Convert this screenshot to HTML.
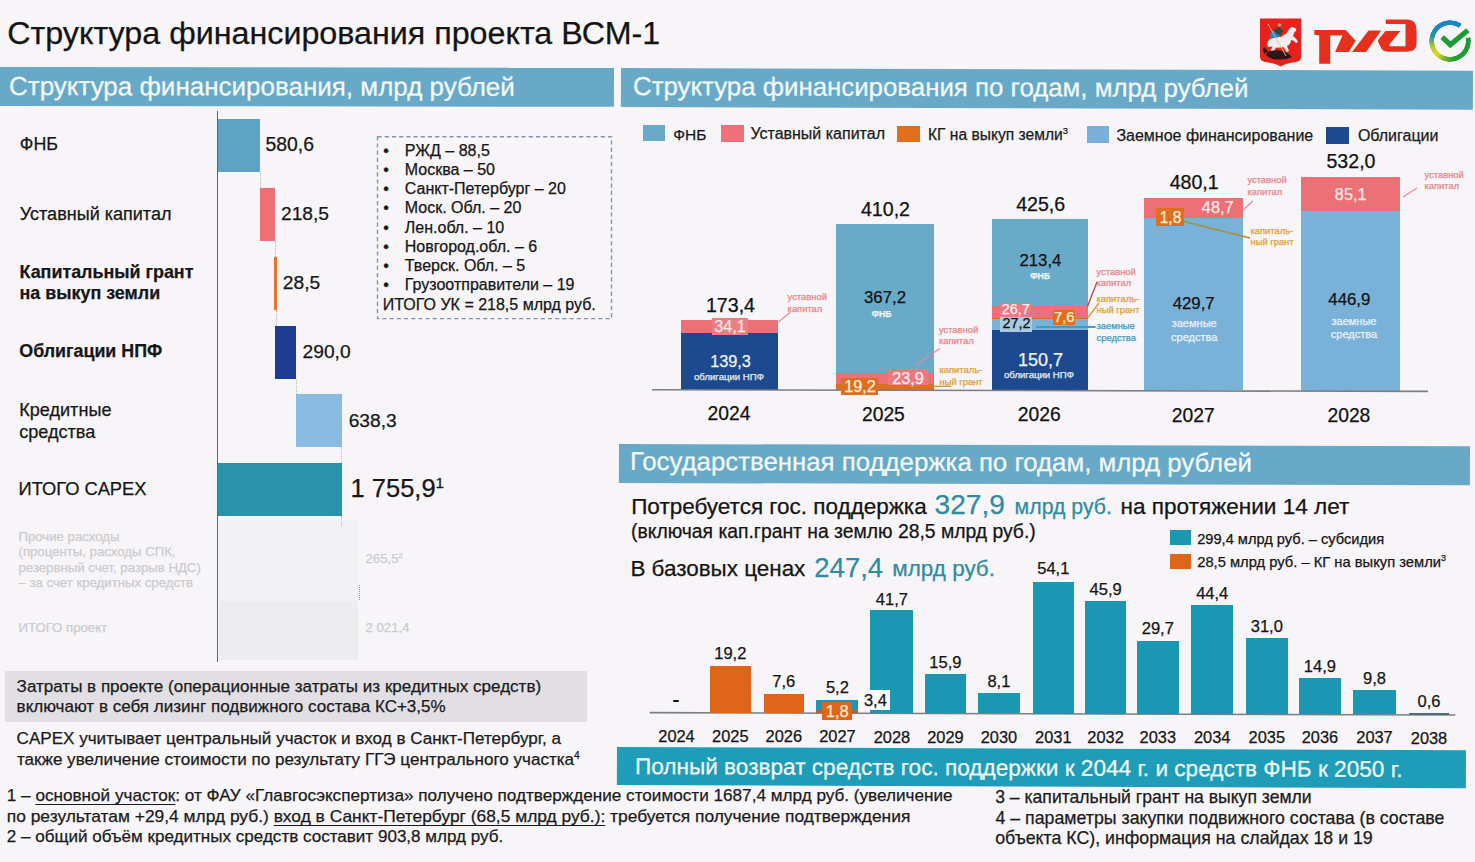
<!DOCTYPE html>
<html lang="ru"><head><meta charset="utf-8"><title>Структура финансирования проекта ВСМ-1</title><style>*{margin:0;padding:0;box-sizing:border-box}
html,body{width:1475px;height:862px;overflow:hidden;background:#F7F5F8}
body{position:relative;font-family:"Liberation Sans", Arial, "Noto Sans CJK SC", sans-serif;color:#111}
.t{position:absolute;white-space:nowrap;line-height:1;-webkit-text-stroke:0.25px currentColor}
.r{position:absolute}
sup{font-size:0.6em;vertical-align:0;position:relative;top:-0.6em;line-height:0}
u{text-decoration-thickness:1.4px;text-underline-offset:2.5px;text-decoration-skip-ink:none}
</style></head><body>
<div class="t" style="left:7.2px;top:16.9px;font-size:32.25px;color:#141414;">Структура финансирования проекта ВСМ-1</div>
<div class="r" style="left:0.0px;top:67.3px;width:613.5px;height:39.2px;background:#67A9C7;transform-origin:0 0;transform:rotate(0.08deg);"></div>
<div class="t" style="left:8.7px;top:73.3px;font-size:25.99px;color:#F4FAFC;transform-origin:0 22.0px;transform:rotate(0.08deg)">Структура финансирования, млрд рублей</div>
<div class="r" style="left:621.0px;top:68.3px;width:852.0px;height:39.3px;background:#67A9C7;transform-origin:0 0;transform:rotate(0.18deg);"></div>
<div class="t" style="left:632.5px;top:74.1px;font-size:25.83px;color:#F4FAFC;transform-origin:0 21.9px;transform:rotate(0.18deg)">Структура финансирования по годам, млрд рублей</div>
<div class="r" style="left:618.6px;top:443.8px;width:851.4px;height:38.7px;background:#67A9C7;transform-origin:0 0;transform:rotate(0.15deg);"></div>
<div class="t" style="left:629.6px;top:449.0px;font-size:25.8px;color:#F4FAFC;transform-origin:0 21.8px;transform:rotate(0.15deg)">Государственная поддержка по годам, млрд рублей</div>
<div class="r" style="left:216.7px;top:110.5px;width:1.6px;height:551.5px;background:#646466;"></div>
<div class="r" style="left:218.0px;top:119.0px;width:42.0px;height:53.0px;background:#5FA3C4;"></div>
<div class="r" style="left:260.0px;top:188.0px;width:15.0px;height:53.0px;background:#EE7076;"></div>
<div class="r" style="left:274.2px;top:257.0px;width:2.8px;height:53.0px;background:#E07A2A;"></div>
<div class="r" style="left:275.3px;top:325.5px;width:21.1px;height:53.1px;background:#1F3C93;"></div>
<div class="r" style="left:295.7px;top:394.4px;width:45.9px;height:53.0px;background:#8ABBE0;"></div>
<div class="r" style="left:218.0px;top:463.3px;width:123.6px;height:52.3px;background:#2A93A9;"></div>
<div class="r" style="left:259.5px;top:172px;width:0;height:16px;border-left:1px dotted #B8B8B8"></div>
<div class="r" style="left:274.5px;top:241px;width:0;height:16px;border-left:1px dotted #B8B8B8"></div>
<div class="r" style="left:276.0px;top:310px;width:0;height:15.5px;border-left:1px dotted #B8B8B8"></div>
<div class="r" style="left:295.8px;top:378.6px;width:0;height:15.799999999999955px;border-left:1px dotted #B8B8B8"></div>
<div class="r" style="left:340.7px;top:447.4px;width:0;height:15.900000000000034px;border-left:1px dotted #B8B8B8"></div>
<div class="r" style="left:218.5px;top:520.0px;width:139.5px;height:80.5px;background:#F2F1F4;"></div>
<div class="r" style="left:218.5px;top:600.5px;width:139.5px;height:59.5px;background:#EDECEF;"></div>
<div class="r" style="left:359px;top:585px;width:0;height:15px;border-left:1px dotted #999"></div>
<div class="r" style="left:341px;top:516px;width:0;height:10px;border-left:1px dotted #BBB"></div>
<div class="t" style="left:19.8px;top:135.8px;font-size:17.9px;color:#161616;">ФНБ</div>
<div class="t" style="left:19.8px;top:205.0px;font-size:18.05px;color:#161616;">Уставный капитал</div>
<div class="t" style="left:19.5px;top:264.0px;font-size:17.9px;color:#161616;font-weight:700;">Капитальный грант</div>
<div class="t" style="left:19.5px;top:285.0px;font-size:17.9px;color:#161616;font-weight:700;">на выкуп земли</div>
<div class="t" style="left:19.3px;top:342.7px;font-size:17.85px;color:#161616;font-weight:700;">Облигации НПФ</div>
<div class="t" style="left:19.2px;top:401.4px;font-size:18.1px;color:#161616;">Кредитные</div>
<div class="t" style="left:19.2px;top:422.7px;font-size:18.1px;color:#161616;">средства</div>
<div class="t" style="left:18.6px;top:480.4px;font-size:18.3px;color:#161616;">ИТОГО CAPEX</div>
<div class="t" style="left:18.5px;top:529.6px;font-size:13.2px;color:#CCCBCF;">Прочие расходы</div>
<div class="t" style="left:18.5px;top:545.2px;font-size:13.2px;color:#CCCBCF;">(проценты, расходы СПК,</div>
<div class="t" style="left:18.5px;top:560.6px;font-size:13.2px;color:#CCCBCF;">резервный счет, разрыв НДС)</div>
<div class="t" style="left:18.5px;top:575.8px;font-size:13.2px;color:#CCCBCF;">– за счет кредитных средств</div>
<div class="t" style="left:18.5px;top:620.6px;font-size:13.2px;color:#CCCBCF;">ИТОГО проект</div>
<div class="t" style="left:365.5px;top:552.2px;font-size:13.2px;color:#CCCBCF;">265,5<sup>2</sup></div>
<div class="t" style="left:365.5px;top:620.6px;font-size:13.2px;color:#CCCBCF;">2 021,4</div>
<div class="t" style="left:265.5px;top:135.0px;font-size:19.4px;color:#161616;">580,6</div>
<div class="t" style="left:281.0px;top:204.0px;font-size:19.2px;color:#161616;">218,5</div>
<div class="t" style="left:282.8px;top:273.1px;font-size:19.2px;color:#161616;">28,5</div>
<div class="t" style="left:302.6px;top:341.9px;font-size:19.2px;color:#161616;">290,0</div>
<div class="t" style="left:348.7px;top:410.7px;font-size:19.2px;color:#161616;">638,3</div>
<div class="t" style="left:350.5px;top:476.2px;font-size:25.5px;color:#161616;">1 755,9<sup class="s1">1</sup></div>
<svg class="r" style="left:370px;top:130px" width="250" height="195"><rect x="7.5" y="6.8" width="234" height="181.8" fill="none" stroke="#7F97AC" stroke-width="1.4" stroke-dasharray="4.2 3"/></svg>
<div class="t" style="left:383.2px;top:142.8px;font-size:16px;color:#161616;">•</div>
<div class="t" style="left:404.8px;top:142.8px;font-size:16px;color:#161616;">РЖД – 88,5</div>
<div class="t" style="left:383.2px;top:162.0px;font-size:16px;color:#161616;">•</div>
<div class="t" style="left:404.8px;top:162.0px;font-size:16px;color:#161616;">Москва – 50</div>
<div class="t" style="left:383.2px;top:181.2px;font-size:16px;color:#161616;">•</div>
<div class="t" style="left:404.8px;top:181.2px;font-size:16px;color:#161616;">Санкт-Петербург – 20</div>
<div class="t" style="left:383.2px;top:200.4px;font-size:16px;color:#161616;">•</div>
<div class="t" style="left:404.8px;top:200.4px;font-size:16px;color:#161616;">Моск. Обл. – 20</div>
<div class="t" style="left:383.2px;top:219.6px;font-size:16px;color:#161616;">•</div>
<div class="t" style="left:404.8px;top:219.6px;font-size:16px;color:#161616;">Лен.обл. – 10</div>
<div class="t" style="left:383.2px;top:238.8px;font-size:16px;color:#161616;">•</div>
<div class="t" style="left:404.8px;top:238.8px;font-size:16px;color:#161616;">Новгород.обл. – 6</div>
<div class="t" style="left:383.2px;top:258.0px;font-size:16px;color:#161616;">•</div>
<div class="t" style="left:404.8px;top:258.0px;font-size:16px;color:#161616;">Тверск. Обл. – 5</div>
<div class="t" style="left:383.2px;top:277.2px;font-size:16px;color:#161616;">•</div>
<div class="t" style="left:404.8px;top:277.2px;font-size:16px;color:#161616;">Грузоотправители – 19</div>
<div class="t" style="left:382.8px;top:297.0px;font-size:16px;color:#161616;">ИТОГО УК = 218,5 млрд руб.</div>
<div class="r" style="left:5.0px;top:670.6px;width:582.0px;height:51.2px;background:#E1DFE3;"></div>
<div class="t" style="left:16.6px;top:677.6px;font-size:17.04px;color:#1a1a1a;">Затраты в проекте (операционные затраты из кредитных средств)</div>
<div class="t" style="left:16.6px;top:698.0px;font-size:17.04px;color:#1a1a1a;">включают в себя лизинг подвижного состава КС+3,5%</div>
<div class="t" style="left:16.6px;top:730.2px;font-size:17.07px;color:#1a1a1a;">CAPEX учитывает центральный участок и вход в Санкт-Петербург, а</div>
<div class="t" style="left:16.9px;top:751.2px;font-size:17.07px;color:#1a1a1a;">также увеличение стоимости по результату ГГЭ центрального участка<sup class="s2">4</sup></div>
<div class="t" style="left:6.8px;top:787.0px;font-size:17.15px;color:#1a1a1a;">1 – <u>основной участок</u>: от ФАУ «Главгосэкспертиза» получено подтверждение стоимости 1687,4 млрд руб. (увеличение</div>
<div class="t" style="left:6.8px;top:807.6px;font-size:17.39px;color:#1a1a1a;">по результатам +29,4 млрд руб.) <u>вход в Санкт-Петербург (68,5 млрд руб.):</u> требуется получение подтверждения</div>
<div class="t" style="left:6.8px;top:828.1px;font-size:17.06px;color:#1a1a1a;">2 – общий объём кредитных средств составит 903,8 млрд руб.</div>
<div class="t" style="left:995.2px;top:788.8px;font-size:17.58px;color:#1a1a1a;">3 – капитальный грант на выкуп земли</div>
<div class="t" style="left:995.5px;top:809.9px;font-size:17.76px;color:#1a1a1a;">4 – параметры закупки подвижного состава (в составе</div>
<div class="t" style="left:995.2px;top:830.4px;font-size:17.76px;color:#1a1a1a;">объекта КС), информация на слайдах 18 и 19</div>
<div class="r" style="left:642.8px;top:124.8px;width:22.3px;height:16.7px;background:#6AAAC9;"></div>
<div class="t" style="left:673.2px;top:126.5px;font-size:15.5px;color:#1a1a1a;">ФНБ</div>
<div class="r" style="left:720.5px;top:125.0px;width:23.4px;height:16.7px;background:#EC7178;"></div>
<div class="t" style="left:750.4px;top:126.3px;font-size:16px;color:#1a1a1a;">Уставный капитал</div>
<div class="r" style="left:896.9px;top:125.5px;width:23.1px;height:16.5px;background:#E0701F;"></div>
<div class="t" style="left:928.0px;top:127.1px;font-size:15.6px;color:#1a1a1a;">КГ на выкуп земли<sup class="s3">3</sup></div>
<div class="r" style="left:1087.0px;top:126.3px;width:22.4px;height:16.5px;background:#7AB0D8;"></div>
<div class="t" style="left:1116.4px;top:127.5px;font-size:16px;color:#1a1a1a;">Заемное финансирование</div>
<div class="r" style="left:1326.4px;top:127.4px;width:22.8px;height:16.2px;background:#1D4A8D;"></div>
<div class="t" style="left:1357.9px;top:128.4px;font-size:16px;color:#1a1a1a;">Облигации</div>
<div class="r" style="left:681.4px;top:319.5px;width:97.0px;height:13.5px;background:#EC7177;"></div>
<div class="r" style="left:681.4px;top:333.0px;width:97.0px;height:56.6px;background:#1D4A8E;"></div>
<div class="r" style="left:836.0px;top:224.3px;width:97.5px;height:148.7px;background:#69AAC9;"></div>
<div class="r" style="left:836.0px;top:373.0px;width:97.5px;height:10.5px;background:#EC7177;"></div>
<div class="r" style="left:836.0px;top:383.5px;width:97.5px;height:6.3px;background:#DF6E1E;"></div>
<div class="r" style="left:991.5px;top:218.5px;width:96.5px;height:87.2px;background:#69AAC9;"></div>
<div class="r" style="left:991.5px;top:305.7px;width:96.5px;height:12.0px;background:#EC7177;"></div>
<div class="r" style="left:991.5px;top:317.7px;width:96.5px;height:1.6px;background:#DF6E1E;"></div>
<div class="r" style="left:991.5px;top:319.3px;width:96.5px;height:10.3px;background:#7AB1D8;"></div>
<div class="r" style="left:991.5px;top:329.6px;width:96.5px;height:60.4px;background:#1D4A8E;"></div>
<div class="r" style="left:1144.0px;top:197.6px;width:98.7px;height:20.4px;background:#EC7177;"></div>
<div class="r" style="left:1144.0px;top:218.0px;width:98.7px;height:172.3px;background:#7AB1D8;"></div>
<div class="r" style="left:1300.8px;top:177.0px;width:99.2px;height:33.6px;background:#EC7177;"></div>
<div class="r" style="left:1300.8px;top:210.6px;width:99.2px;height:180.0px;background:#7AB1D8;"></div>
<svg class="r" style="left:0;top:0" width="1475" height="862"><line x1="652" y1="389.8" x2="1428" y2="391.4" stroke="#7E7E80" stroke-width="1.6"/><line x1="649.6" y1="712.6" x2="1455.3" y2="715" stroke="#7E7E80" stroke-width="1.6"/><line x1="778.5" y1="322" x2="790" y2="312.5" stroke="#E58A92" stroke-width="1.2"/><line x1="915" y1="365" x2="940" y2="348.5" stroke="#E58A92" stroke-width="1.2"/><line x1="933.5" y1="386.3" x2="951" y2="386.3" stroke="#D89A30" stroke-width="1.4"/><line x1="1087.5" y1="306.5" x2="1097" y2="282" stroke="#C0404A" stroke-width="1.3"/><line x1="1088" y1="317.5" x2="1099" y2="303" stroke="#D89A30" stroke-width="1.3"/><line x1="1036" y1="327" x2="1095.6" y2="327" stroke="#3A9FC0" stroke-width="2"/><line x1="1243" y1="210" x2="1253" y2="201" stroke="#E58A92" stroke-width="1.2"/><line x1="1184" y1="221.5" x2="1250" y2="238" stroke="#A89032" stroke-width="1.4"/><line x1="1403" y1="197" x2="1417" y2="188" stroke="#E58A92" stroke-width="1.2"/></svg>
<div class="r" style="left:711.7px;top:317.7px;width:36.6px;height:17.8px;background:#EE7C82;"></div>
<div class="t" style="left:730.0px;top:318.4px;font-size:16.3px;color:#FBE9EA;transform:translateX(-50%);">34,1</div>
<div class="r" style="left:887.9px;top:368.6px;width:40.3px;height:16.4px;background:#EE7880;"></div>
<div class="t" style="left:908.0px;top:369.6px;font-size:16.3px;color:#FFF2F2;transform:translateX(-50%);">23,9</div>
<div class="r" style="left:841.0px;top:377.5px;width:36.8px;height:17.5px;background:#DF6E1E;"></div>
<div class="t" style="left:860.0px;top:378.4px;font-size:16.3px;color:#FFEFD8;transform:translateX(-50%);">19,2</div>
<div class="r" style="left:1000.0px;top:302.5px;width:30.5px;height:14.5px;background:#EE7880;"></div>
<div class="t" style="left:1015.8px;top:302.2px;font-size:14.4px;color:#FFF2F2;transform:translateX(-50%);">26,7</div>
<div class="r" style="left:1000.0px;top:316.6px;width:32.0px;height:15.2px;background:#A8CBE2;"></div>
<div class="t" style="left:1016.5px;top:316.3px;font-size:14.4px;transform:translateX(-50%);">27,2</div>
<div class="r" style="left:1052.8px;top:310.0px;width:22.2px;height:14.7px;background:#DF6E1E;"></div>
<div class="t" style="left:1064.2px;top:310.0px;font-size:14.8px;color:#FFEFD8;transform:translateX(-50%);">7,6</div>
<div class="r" style="left:1155.8px;top:207.9px;width:28.1px;height:18.3px;background:#DF6E1E;"></div>
<div class="t" style="left:1170.5px;top:209.5px;font-size:15.6px;color:#FFEFD8;transform:translateX(-50%);">1,8</div>
<div class="t" style="left:1217.7px;top:199.4px;font-size:16.3px;color:#FBEAEA;transform:translateX(-50%);">48,7</div>
<div class="t" style="left:1350.7px;top:186.0px;font-size:16.3px;color:#FBEAEA;transform:translateX(-50%);">85,1</div>
<div class="t" style="left:730.5px;top:353.0px;font-size:16.3px;color:#F0F4FA;transform:translateX(-50%);">139,3</div>
<div class="t" style="left:729.0px;top:372.1px;font-size:9.6px;color:#E8EEF6;transform:translateX(-50%);">облигации НПФ</div>
<div class="t" style="left:885.0px;top:290.0px;font-size:16.8px;transform:translateX(-50%);">367,2</div>
<div class="t" style="left:881.5px;top:310.3px;font-size:8.6px;color:#EEF6FA;font-weight:700;transform:translateX(-50%);">ФНБ</div>
<div class="t" style="left:1040.4px;top:253.2px;font-size:16.8px;transform:translateX(-50%);">213,4</div>
<div class="t" style="left:1040.0px;top:271.5px;font-size:8.6px;color:#EEF6FA;font-weight:700;transform:translateX(-50%);">ФНБ</div>
<div class="t" style="left:1040.5px;top:351.2px;font-size:18px;color:#F0F4FA;transform:translateX(-50%);">150,7</div>
<div class="t" style="left:1039.0px;top:369.5px;font-size:9.6px;color:#E8EEF6;transform:translateX(-50%);">облигации НПФ</div>
<div class="t" style="left:1193.7px;top:295.5px;font-size:16.8px;transform:translateX(-50%);">429,7</div>
<div class="t" style="left:1194.2px;top:318.2px;font-size:11px;color:#EAF2F8;transform:translateX(-50%);">заемные</div>
<div class="t" style="left:1194.2px;top:332.3px;font-size:11px;color:#EAF2F8;transform:translateX(-50%);">средства</div>
<div class="t" style="left:1349.3px;top:292.2px;font-size:16.8px;transform:translateX(-50%);">446,9</div>
<div class="t" style="left:1354.0px;top:315.7px;font-size:11px;color:#EAF2F8;transform:translateX(-50%);">заемные</div>
<div class="t" style="left:1354.0px;top:329.1px;font-size:11px;color:#EAF2F8;transform:translateX(-50%);">средства</div>
<div class="t" style="left:730.5px;top:295.6px;font-size:19.6px;transform:translateX(-50%);">173,4</div>
<div class="t" style="left:885.5px;top:200.2px;font-size:19.6px;transform:translateX(-50%);">410,2</div>
<div class="t" style="left:1040.7px;top:194.8px;font-size:19.6px;transform:translateX(-50%);">425,6</div>
<div class="t" style="left:1194.2px;top:173.3px;font-size:19.6px;transform:translateX(-50%);">480,1</div>
<div class="t" style="left:1351.0px;top:152.2px;font-size:19.6px;transform:translateX(-50%);">532,0</div>
<div class="t" style="left:729.0px;top:404.3px;font-size:19.3px;transform:translateX(-50%);">2024</div>
<div class="t" style="left:883.4px;top:405.0px;font-size:19.3px;transform:translateX(-50%);">2025</div>
<div class="t" style="left:1039.2px;top:405.3px;font-size:19.3px;transform:translateX(-50%);">2026</div>
<div class="t" style="left:1193.2px;top:405.7px;font-size:19.3px;transform:translateX(-50%);">2027</div>
<div class="t" style="left:1348.9px;top:406.1px;font-size:19.3px;transform:translateX(-50%);">2028</div>
<div class="t" style="left:787.6px;top:292.3px;font-size:9.4px;color:#E8848C;">уставной</div>
<div class="t" style="left:787.6px;top:303.6px;font-size:9.4px;color:#E8848C;">капитал</div>
<div class="t" style="left:938.9px;top:325.0px;font-size:9.4px;color:#E8848C;">уставной</div>
<div class="t" style="left:938.9px;top:336.3px;font-size:9.4px;color:#E8848C;">капитал</div>
<div class="t" style="left:939.5px;top:365.4px;font-size:9.4px;color:#E0A030;">капиталь-</div>
<div class="t" style="left:939.5px;top:376.7px;font-size:9.4px;color:#E0A030;">ный грант</div>
<div class="t" style="left:1096.5px;top:266.6px;font-size:9.4px;color:#E8848C;">уставной</div>
<div class="t" style="left:1096.5px;top:277.9px;font-size:9.4px;color:#E8848C;">капитал</div>
<div class="t" style="left:1096.5px;top:293.8px;font-size:9.4px;color:#E0A030;">капиталь-</div>
<div class="t" style="left:1096.5px;top:305.1px;font-size:9.4px;color:#E0A030;">ный грант</div>
<div class="t" style="left:1096.5px;top:321.4px;font-size:9.4px;color:#3A9CC0;">заемные</div>
<div class="t" style="left:1096.5px;top:332.7px;font-size:9.4px;color:#3A9CC0;">средства</div>
<div class="t" style="left:1247.4px;top:175.3px;font-size:9.4px;color:#E8848C;">уставной</div>
<div class="t" style="left:1247.4px;top:186.6px;font-size:9.4px;color:#E8848C;">капитал</div>
<div class="t" style="left:1250.5px;top:225.6px;font-size:9.4px;color:#E0A030;">капиталь-</div>
<div class="t" style="left:1250.5px;top:236.9px;font-size:9.4px;color:#E0A030;">ный грант</div>
<div class="t" style="left:1424.5px;top:170.0px;font-size:9.4px;color:#E8848C;">уставной</div>
<div class="t" style="left:1424.5px;top:181.3px;font-size:9.4px;color:#E8848C;">капитал</div>
<div class="t" style="left:631.2px;top:495.5px;font-size:22.5px;color:#141414;">Потребуется гос. поддержка</div>
<div class="t" style="left:934.6px;top:490.8px;font-size:28.1px;color:#2F8C9E;">327,9</div>
<div class="t" style="left:1014.6px;top:496.6px;font-size:21.3px;color:#2F8C9E;">млрд руб.</div>
<div class="t" style="left:1120.6px;top:495.7px;font-size:22.55px;color:#141414;">на протяжении 14 лет</div>
<div class="t" style="left:631.0px;top:522.1px;font-size:19.33px;color:#141414;">(включая кап.грант на землю 28,5 млрд руб.)</div>
<div class="t" style="left:630.4px;top:557.8px;font-size:22.45px;color:#141414;">В базовых ценах</div>
<div class="t" style="left:814.3px;top:553.5px;font-size:27.5px;color:#2F8C9E;">247,4</div>
<div class="t" style="left:892.3px;top:557.8px;font-size:22.46px;color:#2F8C9E;">млрд руб.</div>
<div class="r" style="left:1169.8px;top:530.2px;width:21.7px;height:15.2px;background:#1B96B3;"></div>
<div class="t" style="left:1197.2px;top:531.6px;font-size:14.63px;color:#141414;">299,4 млрд руб. – субсидия</div>
<div class="r" style="left:1169.8px;top:554.2px;width:21.7px;height:14.6px;background:#DF651B;"></div>
<div class="t" style="left:1197.2px;top:554.7px;font-size:14.74px;color:#141414;">28,5 млрд руб. – КГ на выкуп земли<sup class="s4">3</sup></div>
<div class="r" style="left:709.6px;top:665.8px;width:41.4px;height:46.9px;background:#DF651B;"></div>
<div class="r" style="left:763.6px;top:694.0px;width:40.4px;height:18.9px;background:#DF651B;"></div>
<div class="r" style="left:816.2px;top:699.6px;width:42.3px;height:13.4px;background:#1B96B3;"></div>
<div class="r" style="left:870.3px;top:610.3px;width:43.2px;height:102.9px;background:#1B96B3;"></div>
<div class="r" style="left:925.0px;top:674.2px;width:40.7px;height:39.1px;background:#1B96B3;"></div>
<div class="r" style="left:977.9px;top:693.4px;width:41.9px;height:20.1px;background:#1B96B3;"></div>
<div class="r" style="left:1033.0px;top:582.2px;width:40.7px;height:131.4px;background:#1B96B3;"></div>
<div class="r" style="left:1085.2px;top:601.2px;width:40.8px;height:112.5px;background:#1B96B3;"></div>
<div class="r" style="left:1137.0px;top:641.0px;width:41.7px;height:72.9px;background:#1B96B3;"></div>
<div class="r" style="left:1191.4px;top:604.9px;width:41.6px;height:109.1px;background:#1B96B3;"></div>
<div class="r" style="left:1245.7px;top:638.0px;width:42.3px;height:76.2px;background:#1B96B3;"></div>
<div class="r" style="left:1298.5px;top:677.9px;width:42.8px;height:36.4px;background:#1B96B3;"></div>
<div class="r" style="left:1353.4px;top:689.9px;width:42.2px;height:24.6px;background:#1B96B3;"></div>
<div class="r" style="left:1408.6px;top:712.6px;width:40.7px;height:2.0px;background:#4E6E78;"></div>
<div class="r" style="left:816.2px;top:709.7px;width:42.3px;height:3.3px;background:#C0602A;"></div>
<div class="r" style="left:822.4px;top:701.8px;width:29.6px;height:18.3px;background:#DF651B;"></div>
<div class="t" style="left:837.2px;top:703.0px;font-size:16.5px;color:#FFEBD2;transform:translateX(-50%);">1,8</div>
<div class="r" style="left:858.8px;top:690.0px;width:31.3px;height:20.0px;background:#FAFAFB;"></div>
<div class="t" style="left:875.4px;top:692.0px;font-size:16.5px;color:#141414;transform:translateX(-50%);">3,4</div>
<div class="r" style="left:673.3px;top:699.5px;width:6.1px;height:2.2px;background:#111;border-radius:1px"></div>
<div class="t" style="left:676.5px;top:728.1px;font-size:16.4px;color:#141414;transform:translateX(-50%);">2024</div>
<div class="t" style="left:730.3px;top:645.2px;font-size:16.5px;color:#141414;transform:translateX(-50%);">19,2</div>
<div class="t" style="left:730.3px;top:728.2px;font-size:16.4px;color:#141414;transform:translateX(-50%);">2025</div>
<div class="t" style="left:783.8px;top:673.4px;font-size:16.5px;color:#141414;transform:translateX(-50%);">7,6</div>
<div class="t" style="left:783.8px;top:728.3px;font-size:16.4px;color:#141414;transform:translateX(-50%);">2026</div>
<div class="t" style="left:837.4px;top:679.2px;font-size:16.5px;color:#141414;transform:translateX(-50%);">5,2</div>
<div class="t" style="left:837.4px;top:728.4px;font-size:16.4px;color:#141414;transform:translateX(-50%);">2027</div>
<div class="t" style="left:891.9px;top:590.5px;font-size:16.5px;color:#141414;transform:translateX(-50%);">41,7</div>
<div class="t" style="left:891.9px;top:728.5px;font-size:16.4px;color:#141414;transform:translateX(-50%);">2028</div>
<div class="t" style="left:945.4px;top:653.9px;font-size:16.5px;color:#141414;transform:translateX(-50%);">15,9</div>
<div class="t" style="left:945.4px;top:728.6px;font-size:16.4px;color:#141414;transform:translateX(-50%);">2029</div>
<div class="t" style="left:998.9px;top:672.9px;font-size:16.5px;color:#141414;transform:translateX(-50%);">8,1</div>
<div class="t" style="left:998.9px;top:728.7px;font-size:16.4px;color:#141414;transform:translateX(-50%);">2030</div>
<div class="t" style="left:1053.3px;top:560.1px;font-size:16.5px;color:#141414;transform:translateX(-50%);">54,1</div>
<div class="t" style="left:1053.3px;top:728.8px;font-size:16.4px;color:#141414;transform:translateX(-50%);">2031</div>
<div class="t" style="left:1105.6px;top:581.2px;font-size:16.5px;color:#141414;transform:translateX(-50%);">45,9</div>
<div class="t" style="left:1105.6px;top:728.9px;font-size:16.4px;color:#141414;transform:translateX(-50%);">2032</div>
<div class="t" style="left:1157.8px;top:620.4px;font-size:16.5px;color:#141414;transform:translateX(-50%);">29,7</div>
<div class="t" style="left:1157.8px;top:729.0px;font-size:16.4px;color:#141414;transform:translateX(-50%);">2033</div>
<div class="t" style="left:1212.2px;top:584.8px;font-size:16.5px;color:#141414;transform:translateX(-50%);">44,4</div>
<div class="t" style="left:1212.2px;top:729.1px;font-size:16.4px;color:#141414;transform:translateX(-50%);">2034</div>
<div class="t" style="left:1266.8px;top:618.0px;font-size:16.5px;color:#141414;transform:translateX(-50%);">31,0</div>
<div class="t" style="left:1266.8px;top:729.2px;font-size:16.4px;color:#141414;transform:translateX(-50%);">2035</div>
<div class="t" style="left:1319.9px;top:658.1px;font-size:16.5px;color:#141414;transform:translateX(-50%);">14,9</div>
<div class="t" style="left:1319.9px;top:729.3px;font-size:16.4px;color:#141414;transform:translateX(-50%);">2036</div>
<div class="t" style="left:1374.5px;top:669.6px;font-size:16.5px;color:#141414;transform:translateX(-50%);">9,8</div>
<div class="t" style="left:1374.5px;top:729.4px;font-size:16.4px;color:#141414;transform:translateX(-50%);">2037</div>
<div class="t" style="left:1429.0px;top:692.8px;font-size:16.5px;color:#141414;transform:translateX(-50%);">0,6</div>
<div class="t" style="left:1429.0px;top:729.5px;font-size:16.4px;color:#141414;transform:translateX(-50%);">2038</div>
<div class="r" style="left:617.4px;top:747.2px;width:848.6px;height:38.0px;background:#1F9CB7;transform-origin:0 0;transform:rotate(0.22deg);"></div>
<div class="t" style="left:635.1px;top:756.3px;font-size:22.6px;color:#F0FAFC;transform-origin:0 19.1px;transform:rotate(0.22deg)">Полный возврат средств гос. поддержки к 2044 г. и средств ФНБ к 2050 г.</div>
<svg class="r" style="left:0;top:0" width="1475" height="862" viewBox="0 0 1475 862" role="img" aria-label="Герб Москвы, РЖД, Сбер"><title>Герб Москвы, РЖД, Сбер</title>
<path d="M1260,18.4 L1301.2,18.4 L1301.2,57 Q1301.2,61 1296,62 Q1286,63 1280.6,66.5 Q1275,63 1265,62 Q1260,61 1260,57 Z" fill="#E5231C"/>
<path d="M1268,47 Q1266,42 1270,39 Q1275,36 1281,37 L1287,33 Q1289,28 1292,27 L1296,28.5 Q1297,31 1294.5,32 L1293,36 Q1296,38 1298,42 L1296,43 Q1294,40 1291,40 Q1291,44 1287,46 L1289,51 L1286.5,52 L1283.5,47 Q1279,48 1276,47.5 L1273,52 L1270.5,51 L1272.5,46.5 Q1270,47 1268,47 Z" fill="#F1EEF0"/>
<path d="M1269.5,36.5 Q1271,30 1277,29.5 L1280.5,33 L1279,37 L1272,38.5 Z" fill="#2F7FBE"/>
<path d="M1274,31 Q1276,27 1280,27.5 L1283,31 L1281,35 L1277,34 Z" fill="#2E4A3A"/>
<circle cx="1279.5" cy="25" r="1.8" fill="#C8A070"/>
<path d="M1266,55 Q1268,50 1274,50.5 Q1280,49.5 1285,52 Q1290,54 1292,57 Q1286,60 1279,59.5 Q1271,60 1266,55 Z" fill="#2A1614"/>
<path d="M1264,47 Q1262,51 1265,54 L1268,51 Z" fill="#2A1818"/>
<line x1="1268" y1="24" x2="1286" y2="56" stroke="#D8C890" stroke-width="0.9"/>
<path d="M1314.3,30.1 L1345.7,30.1 L1355.6,40.7 L1348.9,52.1 L1335.1,52.1 L1342.6,35.4 L1330.2,35.4 L1330.2,63.7 L1319.2,63.7 L1319.2,35.4 L1314.3,34.8 Z" fill="#E4301C"/>
<path d="M1352,52.1 L1366.2,52.1 L1381.1,30.4 L1368.6,30.4 Z" fill="#E4301C"/>
<path d="M1385.8,19.5 L1406.9,19.5 Q1416.6,19.5 1416.6,29.9 L1416.6,43.9 Q1416.6,51.7 1406.4,51.7 L1388.3,51.7 Q1383.7,51.7 1381.4,48.5 L1378.1,42 Q1377.6,40.6 1379,38.7 L1385.5,30.9 L1400.4,30.9 L1389.7,43.9 Q1389,46.2 1391.6,46.2 L1405.5,46.2 L1405.5,23.9 L1385.8,23.9 Z" fill="#E4301C"/>
<path d="M1442.2,37.2 L1450.3,44.7 L1467.9,30.3" fill="none" stroke="#1F9B3A" stroke-width="5.2" stroke-linejoin="miter"/>
</svg>
<div class="r" style="left:1429.4px;top:20.4px;width:42px;height:42px;border-radius:50%;background:conic-gradient(from 0deg,#1B86C6 0deg,#1B86C6 34deg,transparent 35deg,transparent 79deg,#1F9B35 80deg,#22A033 170deg,#7DBB2A 200deg,#E2D81A 225deg,#B8CC30 250deg,#2E9E9A 280deg,#1B86C6 310deg,#1B86C6 360deg);-webkit-mask:radial-gradient(circle,transparent 15.6px,#000 16.1px,#000 20.6px,transparent 21px);mask:radial-gradient(circle,transparent 15.6px,#000 16.1px,#000 20.6px,transparent 21px)"></div>
</body></html>
